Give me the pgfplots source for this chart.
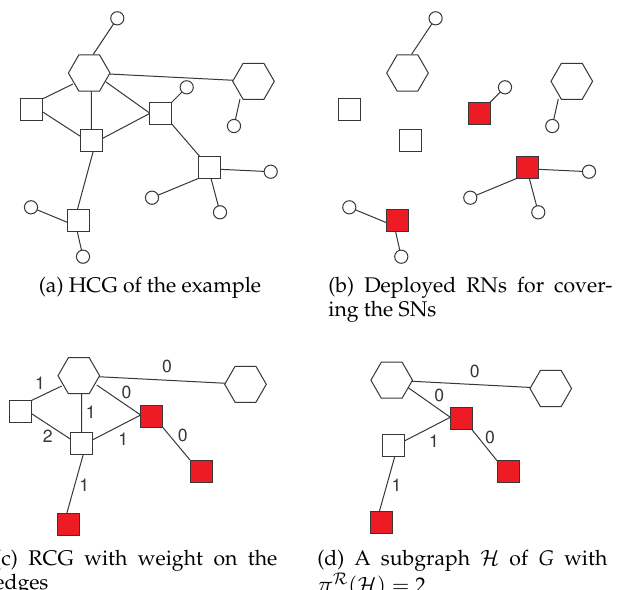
\documentclass[border=0pt]{standalone}
\usepackage[T1]{fontenc}
\usepackage{mathpazo}
\usepackage{helvet}
\usepackage{pgfplots}
\pgfplotsset{compat=1.18}

\definecolor{rnred}{RGB}{237,28,36}
\definecolor{edge}{RGB}{55,55,55}

% flat-topped hexagon for the base stations
\pgfdeclareplotmark{hexagon}{%
  \pgfpathmoveto{\pgfpointpolar{0}{\pgfplotmarksize}}%
  \pgfpathlineto{\pgfpointpolar{60}{\pgfplotmarksize}}%
  \pgfpathlineto{\pgfpointpolar{120}{\pgfplotmarksize}}%
  \pgfpathlineto{\pgfpointpolar{180}{\pgfplotmarksize}}%
  \pgfpathlineto{\pgfpointpolar{240}{\pgfplotmarksize}}%
  \pgfpathlineto{\pgfpointpolar{300}{\pgfplotmarksize}}%
  \pgfpathclose
  \pgfusepathqfillstroke}

\pgfplotsset{
  edges/.style={draw=edge, line width=0.5pt, no markers, unbounded coords=jump},
  sn/.style={only marks, mark=*, mark size=3.3pt,
    mark options={fill=white, draw=edge, line width=0.5pt}},
  rn/.style={only marks, mark=square*, mark size=5.5pt,
    mark options={fill=white, draw=edge, line width=0.5pt}},
  rnon/.style={only marks, mark=square*, mark size=5.5pt,
    mark options={fill=rnred, draw=edge, line width=0.5pt}},
  bs/.style={only marks, mark=hexagon, mark size=10.4pt,
    mark options={fill=white, draw=edge, line width=0.5pt}},
}
\tikzset{
  w/.style={font=\fontsize{8.8}{10}\selectfont\sffamily, text=edge, inner sep=0pt},
  subcap/.style={inner sep=0pt, font=\fontsize{10.6}{12}\selectfont},
}

\begin{document}
\begin{tikzpicture}
\begin{axis}[hide axis, scale only axis, width=311.5pt, height=295pt,
  xmin=0, xmax=623, ymin=0, ymax=590, y dir=reverse, clip=false]

% ---------- (a) HCG ----------
\addplot[edges] coordinates {
  (117.3,18.3) (93.3,54.3) (nan,nan)
  (89.2,73) (253.5,81.3) (nan,nan)
  (42.3,99) (73,84) (nan,nan)
  (91.3,91) (91.3,129.3) (nan,nan)
  (106,82) (150,113.3) (nan,nan)
  (42.3,111.7) (81,136.7) (nan,nan)
  (102.7,138.3) (150,113.3) (nan,nan)
  (171.7,102.3) (186.7,87.3) (nan,nan)
  (171.7,124) (200,156.7) (nan,nan)
  (220,169.3) (270.7,171.7) (nan,nan)
  (198.7,178.3) (152,197.7) (nan,nan)
  (211,178.3) (220,212.3) (nan,nan)
  (93.3,151) (77.3,210) (nan,nan)
  (68.3,222.7) (31,207.3) (nan,nan)
  (77.3,231.7) (83,256.7) (nan,nan)
  (240,99) (234,126)
};
\addplot[bs] coordinates {(89.2,73) (253.5,81.3)};
\addplot[rn] coordinates {(31.2,109.2) (91.8,140.2) (160.8,113.2) (209.5,167.5) (78.7,220.5)};
\addplot[sn] coordinates {(117.3,18.3) (186.7,87.3) (234,126) (270.7,171.7)
  (152,197.7) (220,212.3) (31,207.3) (83,256.7)};

% ---------- (b) deployed RNs ----------
\addplot[edges] coordinates {
  (435.6,18.3) (411.6,54.3) (nan,nan)
  (558.3,99) (552.3,126) (nan,nan)
  (490,102.3) (505,87.3) (nan,nan)
  (538.3,169.3) (589,171.7) (nan,nan)
  (517,178.3) (470.3,197.7) (nan,nan)
  (529.3,178.3) (538.3,212.3) (nan,nan)
  (386.6,222.7) (349.3,207.3) (nan,nan)
  (395.6,231.7) (401.3,256.7)
};
\addplot[bs] coordinates {(407.5,73) (571.8,81.3)};
\addplot[rn] coordinates {(349.5,109.2) (410.1,140.2)};
\addplot[rnon] coordinates {(479.1,113.2) (527.8,167.5) (397,220.5)};
\addplot[sn] coordinates {(435.6,18.3) (505,87.3) (552.3,126) (589,171.7)
  (470.3,197.7) (538.3,212.3) (349.3,207.3) (401.3,256.7)};

% ---------- (c) RCG ----------
\addplot[edges] coordinates {
  (78.8,375.7) (245.5,384.3) (nan,nan)
  (31,400.7) (61.7,386) (nan,nan)
  (81.7,394) (81.7,433) (nan,nan)
  (96.7,385) (140.7,415) (nan,nan)
  (31,413.3) (70.3,439) (nan,nan)
  (92.3,440) (140.7,415) (nan,nan)
  (162.7,427.3) (190,460) (nan,nan)
  (83.3,454.3) (66.7,513.7)
};
\addplot[bs] coordinates {(78.8,375.7) (245.5,384.3)};
\addplot[rn] coordinates {(20,411.7) (81.3,443.5)};
\addplot[rnon] coordinates {(151.7,416.3) (201,471.2) (68.3,524.7)};

% ---------- (d) subgraph ----------
\addplot[edges] coordinates {
  (391.7,380.2) (550.8,388.5) (nan,nan)
  (407.7,387.3) (450.3,417.3) (nan,nan)
  (450.3,417.3) (404.3,441) (nan,nan)
  (471.7,429.3) (497.3,461) (nan,nan)
  (395,455.7) (379.3,511.7)
};
\addplot[bs] coordinates {(391.7,380.2) (550.8,388.5)};
\addplot[rn] coordinates {(393.8,445)};
\addplot[rnon] coordinates {(461,418.8) (508,471.3) (381.2,522.3)};

% edge weights
\node[w] at (axis cs:40,383.3) {1};
\node[w] at (axis cs:167,366) {0};
\node[w] at (axis cs:126.5,392) {0};
\node[w] at (axis cs:90.7,412) {1};
\node[w] at (axis cs:47.8,436) {2};
\node[w] at (axis cs:123.3,439) {1};
\node[w] at (axis cs:182.8,435) {0};
\node[w] at (axis cs:84.3,485) {1};
\node[w] at (axis cs:474.8,371.7) {0};
\node[w] at (axis cs:439.3,395) {0};
\node[w] at (axis cs:434,441) {1};
\node[w] at (axis cs:490,437.5) {0};
\node[w] at (axis cs:396.5,485.5) {1};

% captions
\node[subcap, anchor=base] at (axis cs:150,292) {(a) HCG of the example};
\node[subcap, anchor=base west, text width=142pt, align=justify]
  at (axis cs:328,292) {(b) Deployed RNs for cover-\linebreak ing the SNs};
\node[subcap, anchor=base west, text width=141.5pt, align=justify]
  at (axis cs:-6,565) {(c) RCG with weight on the\linebreak edges};
\node[subcap, anchor=base west, text width=145pt, align=justify]
  at (axis cs:317,565) {(d) A subgraph $\mathcal{H}$ of $G$ with\linebreak $\pi^{\mathcal{R}}(\mathcal{H}) = 2$};
\end{axis}
\pgfresetboundingbox
\useasboundingbox (0,0) rectangle (311.5pt,295pt);
\end{tikzpicture}
\end{document}
